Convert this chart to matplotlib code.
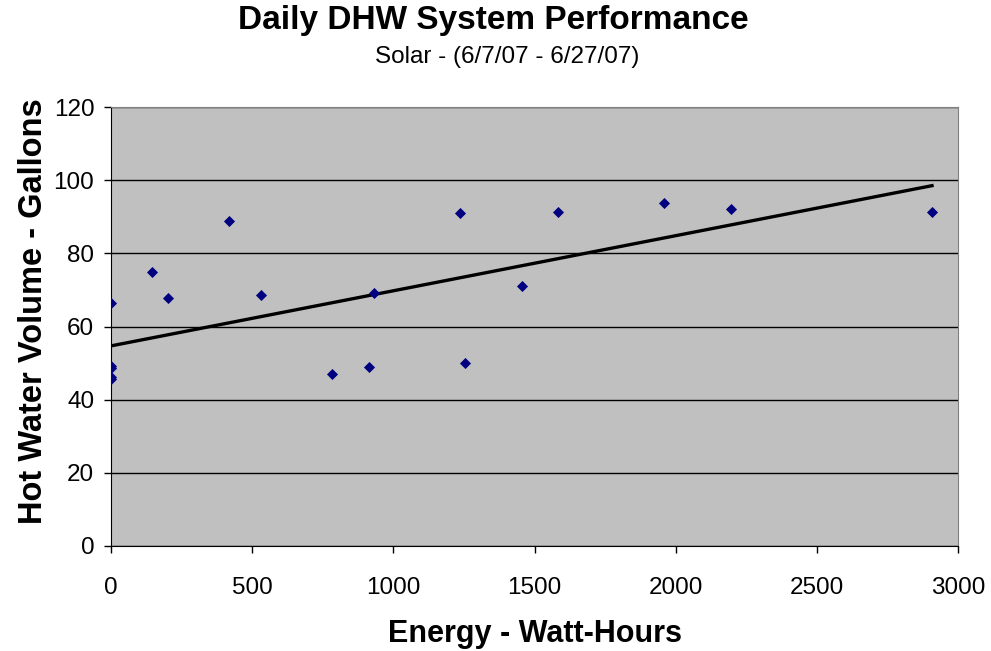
import numpy as np
import matplotlib
matplotlib.use("Agg")
import matplotlib.pyplot as plt

# daily solar energy (Wh) vs hot water drawn (gal)
energy = [0, 0, 0, 0, 0, 145, 203, 418, 531, 783, 915, 932,
          1235, 1254, 1455, 1585, 1960, 2196, 2908]
gallons = [66.4, 49.1, 48.6, 46.3, 45.6, 74.9, 67.7, 88.9, 68.7, 47.1, 48.8, 69.2,
           90.9, 49.9, 71.0, 91.2, 93.8, 92.0, 91.4]

# Excel linear trendline, end points
trend_x = [0, 2908]
trend_y = [54.7, 98.5]

plt.rcParams['font.family'] = ['Liberation Sans', 'DejaVu Sans']

fig = plt.figure(figsize=(9.91, 6.51), dpi=100)
ax = fig.add_axes([111/991, 1 - 546/651, 847/991, 439/651])
ax.set_facecolor('#C0C0C0')

ax.scatter(energy, gallons, marker='D', s=32, color='#000080', lw=0, zorder=3)
ax.plot(trend_x, trend_y, color='black', lw=2.4, zorder=2)

ax.set_xlim(0, 3000)
ax.set_ylim(0, 120)
ax.set_xticks(range(0, 3001, 500))
ax.set_yticks(range(0, 121, 20))
ax.yaxis.grid(True, color='black', lw=1)
ax.set_axisbelow(True)
ax.tick_params(labelsize=17.5, length=5, width=1, direction='out')
ax.tick_params(axis='x', pad=17)
ax.tick_params(axis='y', pad=7)
for s in ['top', 'right']:
    ax.spines[s].set_color('#808080')
for s in ['left', 'bottom']:
    ax.spines[s].set_color('black')

ax.set_xlabel('Energy - Watt-Hours', fontsize=22, fontweight='bold', labelpad=15)
ax.set_ylabel('Hot Water Volume - Gallons', fontsize=23.5, fontweight='bold',
              labelpad=3, y=0.535)

fig.text(493/991, 1 - 20/651, 'Daily DHW System Performance', fontsize=24,
         fontweight='bold', ha='center', va='center')
fig.text(507/991, 1 - 57/651, 'Solar - (6/7/07 - 6/27/07)', fontsize=17.5,
         ha='center', va='center')

fig.savefig('out.png', dpi=100)
